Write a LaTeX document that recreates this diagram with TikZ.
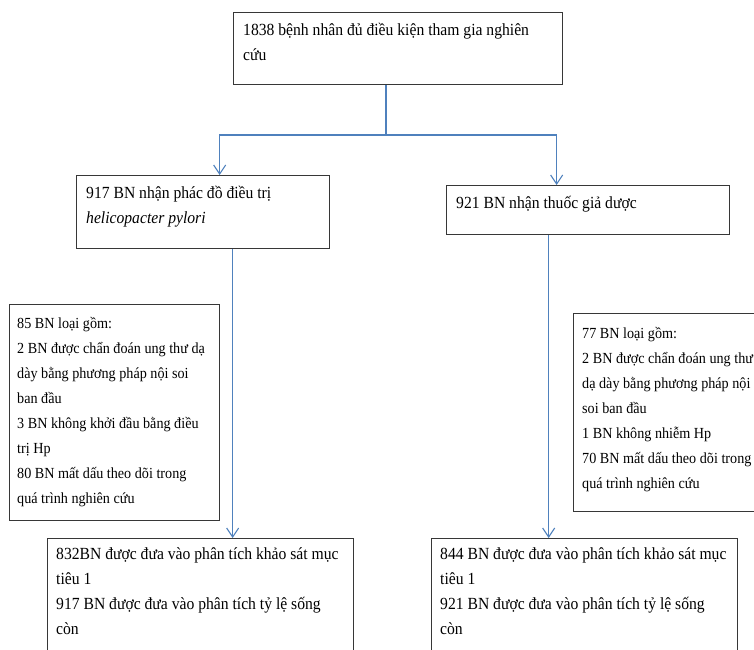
\documentclass[tikz,border=0pt]{standalone}
\usepackage{fontspec}
\setmainfont{Liberation Serif}[FakeStretch=0.92]
\usetikzlibrary{arrows.meta}
\definecolor{conncol}{RGB}{79,129,189}
\definecolor{framecol}{RGB}{55,55,55}
\tikzset{
  box/.style={draw=framecol, line width=1.3pt, inner sep=0pt, anchor=north west},
  txt/.style={anchor=north west, inner sep=0pt, align=left, font=\fontsize{17}{25}\selectfont},
  smalltxt/.style={txt, font=\fontsize{15.4}{25}\selectfont},
  link/.style={draw=conncol, line width=1.1pt},
  arr/.style={link, -{Straight Barb[length=9pt,width=12pt]}}
}
\begin{document}
\begin{tikzpicture}[x=1pt,y=-1pt]
\useasboundingbox[fill=white] (0,0) rectangle (754,649);
% boxes
\node[box, minimum width=329pt, minimum height=72pt] (top) at (233,12) {};
\node[box, minimum width=253pt, minimum height=73pt] (left) at (76,175) {};
\node[box, minimum width=283pt, minimum height=49pt] (right) at (446,185) {};
\node[box, minimum width=210pt, minimum height=216pt] (exL) at (9,304) {};
\node[box, minimum width=200pt, minimum height=198pt] (exR) at (573,313) {};
\node[box, minimum width=306pt, minimum height=130pt] (botL) at (47,538) {};
\node[box, minimum width=306pt, minimum height=130pt] (botR) at (431,538) {};
% texts
\node[txt] (topT) at ([shift={(10pt,-11pt)}]top.north west)
  {1838 bệnh nhân đủ điều kiện tham gia nghiên\\cứu};
\node[txt] (leftT) at ([shift={(10pt,-11pt)}]left.north west)
  {917 BN nhận phác đồ điều trị\\\textit{helicopacter pylori}};
\node[txt] (rightT) at ([shift={(10pt,-11pt)}]right.north west)
  {921 BN nhận thuốc giả dược};
\node[smalltxt] (exLT) at ([shift={(8pt,-13pt)}]exL.north west)
  {85 BN loại gồm:\\2 BN được chẩn đoán ung thư dạ\\dày bằng phương pháp nội soi\\ban đầu\\3 BN không khởi đầu bằng điều\\trị Hp\\80 BN mất dấu theo dõi trong\\quá trình nghiên cứu};
\node[smalltxt] (exRT) at ([shift={(9pt,-14pt)}]exR.north west)
  {77 BN loại gồm:\\2 BN được chẩn đoán ung thư\\dạ dày bằng phương pháp nội\\soi ban đầu\\1 BN không nhiễm Hp\\70 BN mất dấu theo dõi trong\\quá trình nghiên cứu};
\node[txt] (botLT) at ([shift={(9pt,-9pt)}]botL.north west)
  {832BN được đưa vào phân tích khảo sát mục\\tiêu 1\\917 BN được đưa vào phân tích tỷ lệ sống\\còn};
\node[txt] (botRT) at ([shift={(9pt,-9pt)}]botR.north west)
  {844 BN được đưa vào phân tích khảo sát mục\\tiêu 1\\921 BN được đưa vào phân tích tỷ lệ sống\\còn};
% connectors
\coordinate (split) at (386,135);
\draw[link] (top.south -| split) -- (split);
\draw[arr] (split) -| ([xshift=16.5pt]left.north);
\draw[arr] (split) -| ([xshift=-31.5pt]right.north);
\draw[arr] ([xshift=29.5pt]left.south) -- ([xshift=29.5pt]left.south |- botL.north);
\draw[arr] ([xshift=-39.5pt]right.south) -- ([xshift=-39.5pt]right.south |- botR.north);
\end{tikzpicture}
\end{document}
